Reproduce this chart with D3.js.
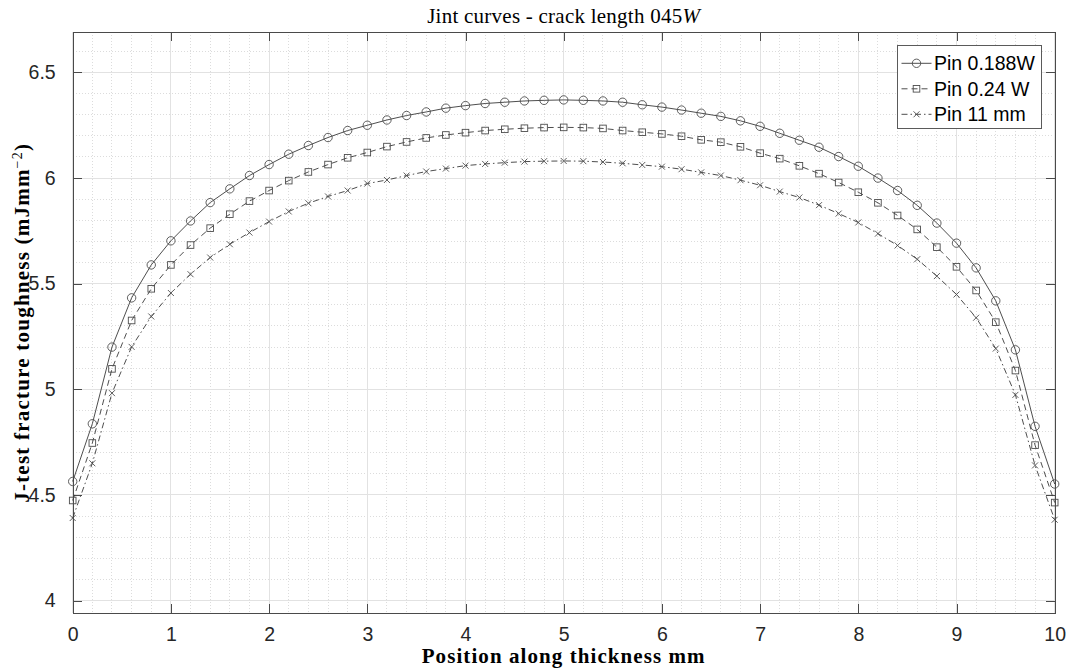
<!DOCTYPE html>
<html>
<head>
<meta charset="utf-8">
<script src="https://cdn.jsdelivr.net/npm/d3@7"></script>
<style>
  html, body { margin: 0; padding: 0; background: #ffffff; }
  svg { display: block; }
</style>
</head>
<body>
<svg id="chart" width="1069" height="671"></svg>
<script>
// Position along the specimen thickness (mm)
const positions = [
  0, 0.2, 0.4, 0.6, 0.8, 1.0, 1.2, 1.4, 1.6, 1.8,
  2.0, 2.2, 2.4, 2.6, 2.8, 3.0, 3.2, 3.4, 3.6, 3.8,
  4.0, 4.2, 4.4, 4.6, 4.8, 5.0, 5.2, 5.4, 5.6, 5.8,
  6.0, 6.2, 6.4, 6.6, 6.8, 7.0, 7.2, 7.4, 7.6, 7.8,
  8.0, 8.2, 8.4, 8.6, 8.8, 9.0, 9.2, 9.4, 9.6, 9.8, 10.0
];

// J-integral values (mJ mm^-2) for each pin configuration
const pin0188W = [
  4.564, 4.837, 5.200, 5.433, 5.589, 5.703, 5.797, 5.884, 5.949, 6.012,
  6.064, 6.113, 6.154, 6.192, 6.225, 6.250, 6.275, 6.296, 6.313, 6.331,
  6.343, 6.353, 6.359, 6.365, 6.368, 6.370, 6.368, 6.365, 6.359, 6.347,
  6.336, 6.322, 6.307, 6.292, 6.271, 6.245, 6.212, 6.179, 6.146, 6.102,
  6.056, 6.000, 5.941, 5.871, 5.787, 5.692, 5.575, 5.419, 5.187, 4.825, 4.552
];
const pin024W = [
  4.474, 4.746, 5.097, 5.326, 5.476, 5.589, 5.683, 5.763, 5.829, 5.891,
  5.941, 5.988, 6.029, 6.064, 6.096, 6.121, 6.149, 6.171, 6.190, 6.204,
  6.215, 6.225, 6.231, 6.236, 6.239, 6.240, 6.239, 6.235, 6.225, 6.217,
  6.209, 6.198, 6.181, 6.170, 6.148, 6.118, 6.092, 6.058, 6.021, 5.979,
  5.933, 5.883, 5.823, 5.757, 5.673, 5.580, 5.468, 5.318, 5.089, 4.736, 4.464
];
const pin11mm = [
  4.391, 4.650, 4.982, 5.201, 5.345, 5.456, 5.545, 5.624, 5.687, 5.742,
  5.794, 5.842, 5.881, 5.913, 5.941, 5.974, 5.991, 6.012, 6.031, 6.045,
  6.059, 6.067, 6.073, 6.078, 6.080, 6.081, 6.080, 6.076, 6.070, 6.062,
  6.054, 6.042, 6.027, 6.012, 5.990, 5.966, 5.936, 5.908, 5.872, 5.832,
  5.790, 5.737, 5.681, 5.616, 5.536, 5.449, 5.339, 5.193, 4.974, 4.640, 4.383
];

const seriesNames = ["Pin 0.188W", "Pin 0.24 W", "Pin 11 mm"];
const xTicks = [0, 1, 2, 3, 4, 5, 6, 7, 8, 9, 10];
const yTicks = [4, 4.5, 5, 5.5, 6, 6.5];
const xDomain = [0, 10];
const yDomain = [3.94, 6.69];

const series = [
  { name: seriesNames[0], values: pin0188W, marker: "circle", dash: null },
  { name: seriesNames[1], values: pin024W,  marker: "square", dash: "6,4" },
  { name: seriesNames[2], values: pin11mm,  marker: "cross",  dash: "6,3,1.5,3" }
];

const svg = d3.select("#chart");
const plot = { left: 72.7, right: 1054.7, top: 32.3, bottom: 613.3 };

const x = d3.scaleLinear().domain(xDomain).range([plot.left, plot.right]);
const y = d3.scaleLinear().domain(yDomain).range([plot.bottom, plot.top]);

const axisColor = "#4a4a4a";
const lineColor = "#3a3a3a";
const markerColor = "#4d4d4d";
const tickFont = "'Liberation Sans', Arial, sans-serif";
const serifFont = "'Liberation Serif', 'Times New Roman', serif";

// Minor grid (dotted)
const xMinor = d3.range(0, 50).map(i => i * 0.2).filter(v => Math.abs(v - Math.round(v)) > 1e-6);
const yMinor = d3.range(0, 28).map(i => 3.9 + i * 0.1)
  .filter(v => v > yDomain[0] && v < yDomain[1] && Math.abs(v * 2 - Math.round(v * 2)) > 1e-6);

const grid = svg.append("g").attr("shape-rendering", "crispEdges");
grid.selectAll(".xminor").data(xMinor).join("line")
  .attr("x1", d => x(d)).attr("x2", d => x(d))
  .attr("y1", plot.top).attr("y2", plot.bottom)
  .attr("stroke", "#dcdcdc").attr("stroke-width", 1).attr("stroke-dasharray", "1,2");
grid.selectAll(".yminor").data(yMinor).join("line")
  .attr("x1", plot.left).attr("x2", plot.right)
  .attr("y1", d => y(d)).attr("y2", d => y(d))
  .attr("stroke", "#dcdcdc").attr("stroke-width", 1).attr("stroke-dasharray", "1,2");

// Major grid
grid.selectAll(".xmajor").data(xTicks).join("line")
  .attr("x1", d => x(d)).attr("x2", d => x(d))
  .attr("y1", plot.top).attr("y2", plot.bottom)
  .attr("stroke", "#e2e2e2").attr("stroke-width", 1);
grid.selectAll(".ymajor").data(yTicks).join("line")
  .attr("x1", plot.left).attr("x2", plot.right)
  .attr("y1", d => y(d)).attr("y2", d => y(d))
  .attr("stroke", "#e2e2e2").attr("stroke-width", 1);

// Axes (ticks point inward, box on all four sides)
function styleAxis(g) {
  g.select(".domain").attr("stroke", axisColor);
  g.selectAll(".tick line").attr("stroke", axisColor);
  g.selectAll(".tick text")
    .attr("fill", "#262626")
    .style("font-family", tickFont)
    .style("font-size", "19.5px");
}
const tickLen = 9;
svg.append("g").attr("transform", `translate(0,${plot.bottom})`)
  .call(d3.axisBottom(x).tickValues(xTicks).tickFormat(d3.format("d"))
    .tickSizeInner(-tickLen).tickSizeOuter(0).tickPadding(14))
  .call(styleAxis);
svg.append("g").attr("transform", `translate(0,${plot.top})`)
  .call(d3.axisTop(x).tickValues(xTicks).tickFormat("")
    .tickSizeInner(-tickLen).tickSizeOuter(0))
  .call(styleAxis);
svg.append("g").attr("transform", `translate(${plot.left},0)`)
  .call(d3.axisLeft(y).tickValues(yTicks).tickFormat(d3.format("~g"))
    .tickSizeInner(-tickLen).tickSizeOuter(0).tickPadding(17))
  .call(styleAxis);
svg.append("g").attr("transform", `translate(${plot.right},0)`)
  .call(d3.axisRight(y).tickValues(yTicks).tickFormat("")
    .tickSizeInner(-tickLen).tickSizeOuter(0))
  .call(styleAxis);
svg.selectAll(".domain").attr("shape-rendering", "crispEdges");
svg.selectAll(".tick line").attr("shape-rendering", "crispEdges");

// Marker drawing helper
function drawMarker(sel, kind) {
  if (kind === "circle") {
    sel.append("circle").attr("r", 4.2)
      .attr("fill", "none").attr("stroke", markerColor).attr("stroke-width", 0.9);
  } else if (kind === "square") {
    sel.append("rect").attr("x", -3.3).attr("y", -3.3).attr("width", 6.6).attr("height", 6.6)
      .attr("fill", "none").attr("stroke", markerColor).attr("stroke-width", 0.9);
  } else {
    sel.append("path").attr("d", "M-3,-3L3,3M-3,3L3,-3")
      .attr("fill", "none").attr("stroke", markerColor).attr("stroke-width", 0.9);
  }
}

// Curves
const line = d3.line().x(d => x(d[0])).y(d => y(d[1]));
const curves = svg.append("g");
series.forEach(s => {
  const pts = positions.map((p, i) => [p, s.values[i]]);
  curves.append("path").datum(pts)
    .attr("d", line)
    .attr("fill", "none")
    .attr("stroke", lineColor)
    .attr("stroke-width", 0.9)
    .attr("stroke-dasharray", s.dash);
  curves.append("g").selectAll("g").data(pts).join("g")
    .attr("transform", d => `translate(${x(d[0])},${y(d[1])})`)
    .each(function() { drawMarker(d3.select(this), s.marker); });
});

// Legend
const legend = svg.append("g");
legend.append("rect")
  .attr("x", 897.5).attr("y", 45.5).attr("width", 144).attr("height", 83)
  .attr("fill", "#ffffff").attr("stroke", "#5a5a5a").attr("stroke-width", 1)
  .attr("shape-rendering", "crispEdges");
series.forEach((s, i) => {
  const row = legend.append("g").attr("transform", `translate(0,${63.3 + i * 25.5})`);
  row.append("line").attr("x1", 901.5).attr("x2", 931.5).attr("y1", 0).attr("y2", 0)
    .attr("stroke", lineColor).attr("stroke-width", 0.9)
    .attr("stroke-dasharray", s.dash);
  const m = row.append("g").attr("transform", "translate(916.5,0)");
  drawMarker(m, s.marker);
  row.append("text").attr("x", 934).attr("y", 0).attr("dy", "0.36em")
    .attr("fill", "#000000")
    .style("font-family", tickFont).style("font-size", "19.5px")
    .text(s.name);
});

// Spread a text's letters so that it spans the wanted width
function spreadTo(textSel, width) {
  const node = textSel.node();
  const len = node.getComputedTextLength();
  const chars = node.textContent.length;
  if (len < width) textSel.style("letter-spacing", ((width - len) / chars) + "px");
}

// Title
const title = svg.append("text")
  .attr("x", (plot.left + plot.right) / 2).attr("y", 23)
  .attr("text-anchor", "middle").attr("fill", "#000000")
  .style("font-family", serifFont).style("font-size", "21px");
title.append("tspan").text("Jint curves - crack length 045");
title.append("tspan").style("font-style", "italic").text("W");
spreadTo(title, 273);

// X axis label
const xl = svg.append("text")
  .attr("x", (plot.left + plot.right) / 2).attr("y", 663)
  .attr("text-anchor", "middle").attr("fill", "#000000")
  .style("font-family", serifFont).style("font-size", "21px").style("font-weight", "bold")
  .text("Position along thickness mm");
spreadTo(xl, 284);

// Y axis label
const yl = svg.append("text")
  .attr("transform", `translate(28.5,${(plot.top + plot.bottom) / 2}) rotate(-90)`)
  .attr("text-anchor", "middle").attr("fill", "#000000")
  .style("font-family", serifFont).style("font-size", "21px").style("font-weight", "bold");
yl.append("tspan").text("J-test fracture toughness (mJmm");
yl.append("tspan").attr("baseline-shift", "super")
  .style("font-size", "14px").style("font-weight", "normal").text("\u22122");
yl.append("tspan").text(")");
spreadTo(yl, 360);
</script>
</body>
</html>
